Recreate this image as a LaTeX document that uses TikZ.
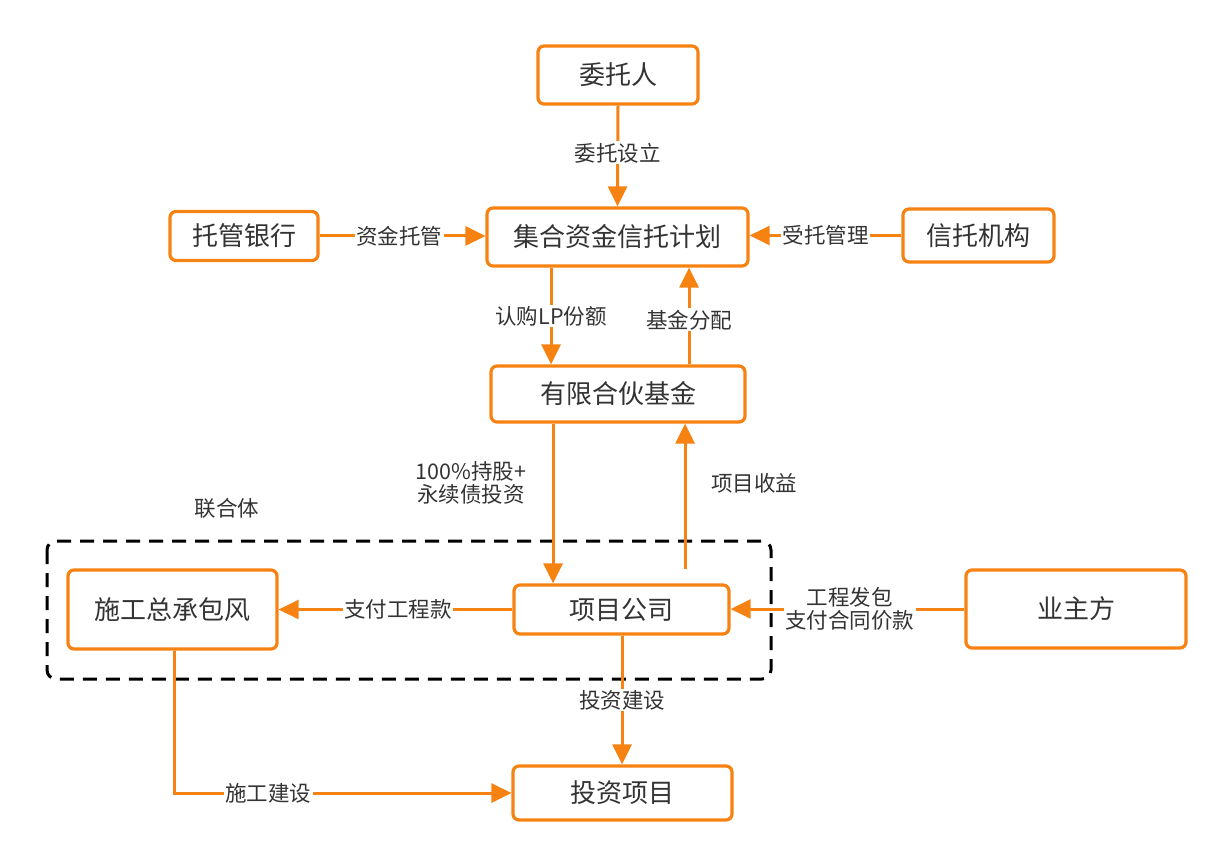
\documentclass[tikz,border=0pt]{standalone}
\usepackage{fontspec}
\setmainfont{Noto Sans CJK SC}
\usetikzlibrary{arrows.meta,positioning}
\definecolor{org}{RGB}{246,130,18}
\definecolor{txt}{RGB}{51,51,51}
\tikzset{
  box/.style={draw=org, line width=3.2pt, rounded corners=6pt, fill=white, text=txt, font=\fontsize{26}{30}\selectfont, inner sep=0pt},
  lab/.style={fill=white, text=txt, font=\fontsize{21.5}{26}\selectfont, inner sep=1.5pt, align=center},
  conn/.style={draw=org, line width=3pt, -{Triangle[length=20pt,width=19pt]}},
  plain/.style={draw=org, line width=3pt},
}
\begin{document}
\begin{tikzpicture}[x=1pt,y=-1pt]
\useasboundingbox (0,0) rectangle (1232,866);
% dashed group
\draw[black, line width=3pt, dash pattern=on 14pt off 9pt, rounded corners=9pt] (47,541) rectangle (771,679);
\node[txt, font=\fontsize{21.5}{26}\selectfont] (lht) at (227,508) {联合体};
% nodes
\node[box, minimum width=160pt, minimum height=58pt] (wtr) at (618,75) {委托人};
\node[box, minimum width=261pt, minimum height=58pt] (jh) at (617.5,237) {集合资金信托计划};
\node[box, minimum width=148pt, minimum height=49pt] (tg) at (244,236) {托管银行};
\node[box, minimum width=151pt, minimum height=53pt] (xt) at (978.5,235.5) {信托机构};
\node[box, minimum width=254pt, minimum height=56pt] (yx) at (618,394) {有限合伙基金};
\node[box, minimum width=215pt, minimum height=49pt] (xm) at (621.5,609.5) {项目公司};
\node[box, minimum width=209pt, minimum height=79pt] (sg) at (172.5,609.5) {施工总承包风};
\node[box, minimum width=220pt, minimum height=78pt] (yz) at (1076,609) {业主方};
\node[box, minimum width=219pt, minimum height=54pt] (tz) at (622.5,793) {投资项目};
% connectors
\draw[conn] (wtr.south) -- node[lab, pos=0.47] {委托设立} (jh.north);
\draw[conn] (tg.east) -- node[lab, pos=0.48] {资金托管} (jh.west |- tg.east);
\draw[conn] (xt.west) -- node[lab, pos=0.5] {受托管理} (jh.east |- xt.west);
\draw[conn] (jh.south -| 551,0) -- node[lab, pos=0.5] {认购LP份额} (yx.north -| 551,0);
\draw[conn] (yx.north -| 689,0) -- node[lab, pos=0.46] {基金分配} (jh.south -| 689,0);
\draw[conn] (yx.south -| 553,0) -- (xm.north -| 553,0);
\node[lab, fill=none] (lb100) at (471,483) {100\%持股+\\[-3pt]永续债投资};
\coordinate (up0) at (685,569);
\draw[conn] (up0) -- (yx.south -| 685,0);
\node[lab, fill=none] (lbsy) at (754,483) {项目收益};
\draw[conn] (xm.west) -- node[lab, pos=0.49] {支付工程款} (sg.east |- xm.west);
\draw[conn] (yz.west) -- node[lab, pos=0.49] {工程发包\\[-3pt]支付合同价款} (xm.east |- yz.west);
\draw[conn] (xm.south -| 622,0) -- node[lab, pos=0.5] {投资建设} (tz.north -| 622,0);
\draw[conn] (sg.south -| 174,0) |- node[lab, pos=0.64] {施工建设} (tz.west);
\end{tikzpicture}
\end{document}
